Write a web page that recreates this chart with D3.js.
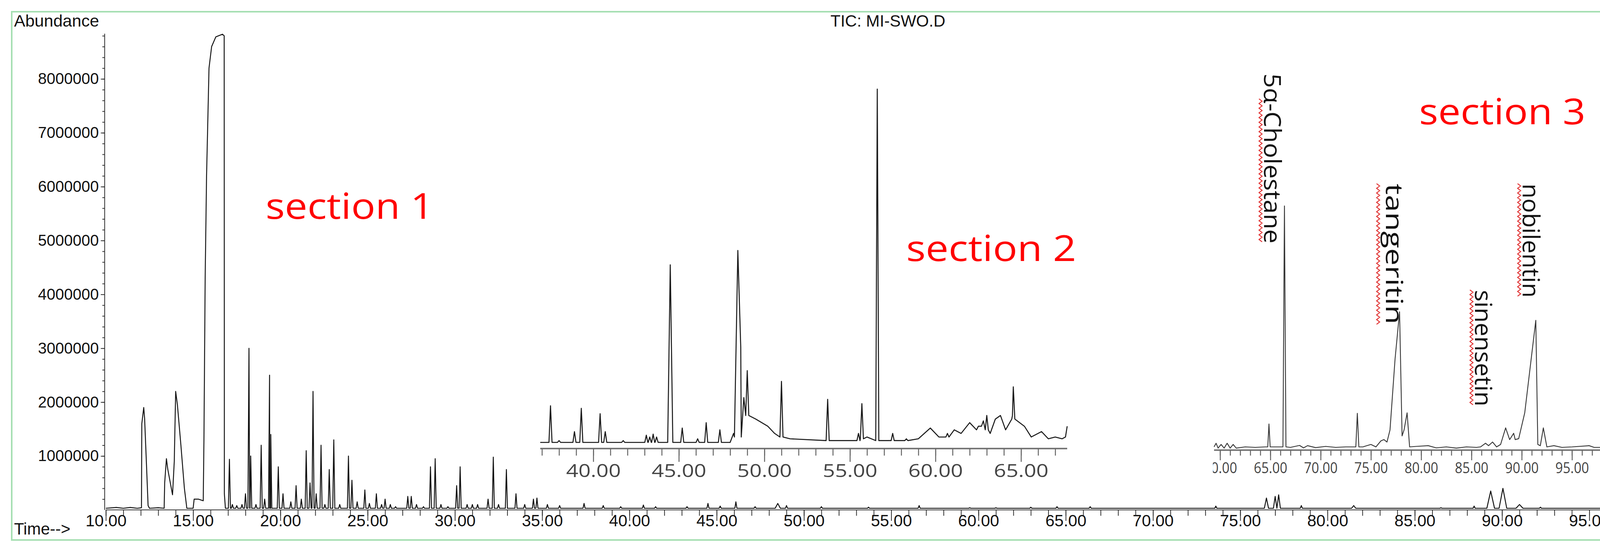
<!DOCTYPE html>
<html><head><meta charset="utf-8">
<script src="https://cdn.jsdelivr.net/npm/d3@7"></script>
<style>body{margin:0;background:#fff}svg{display:block}</style>
</head><body>
<script>
// ---------- DATA ----------
const title = "TIC: MI-SWO.D";
const yLabel = "Abundance";
const xLabel = "Time-->";
const yTicks = [1000000,2000000,3000000,4000000,5000000,6000000,7000000,8000000];
const xTicks = [10,15,20,25,30,35,40,45,50,55,60,65,70,75,80,85,90,95];
const sectionLabels = ["section 1","section 2","section 3"];
const compoundLabels = ["5α-Cholestane","tangeritin","sinensetin","nobilentin"];
// main trace, broad early region [time, abundance (millions)]
const mainProfile = [[10,0.03],[10.6,0.045],[11,0.03],[11.4,0.045],[11.8,0.03],[12.04,0.04],[12.06,1.6],[12.17,1.9],[12.22,1.7],[12.32,0.9],[12.42,0.08],[12.5,0.03],[13.0,0.04],[13.34,0.03],[13.37,0.5],[13.47,0.95],[13.55,0.75],[13.82,0.28],[13.92,0.9],[14.0,2.2],[14.1,1.95],[14.3,1.2],[14.5,0.4],[14.64,0.03],[15.0,0.03],[15.06,0.2],[15.3,0.2],[15.58,0.17],[15.62,1.3],[15.69,4.3],[15.77,6.2],[15.84,7.2],[15.91,8.2],[16.06,8.6],[16.3,8.78],[16.68,8.83],[16.78,8.8],[16.79,0.3],[16.85,0.03]];
// main trace, sharp peaks [time, abundance (millions), half width]
const mainPeaks = [[17.08,0.94],[17.25,0.1],[17.5,0.08],[17.8,0.1],[18.0,0.3],[18.2,3.0],[18.3,1.0],[18.6,0.1],[18.9,1.2],[19.1,0.2],[19.38,2.5],[19.45,1.4],[19.88,0.8],[20.15,0.3],[20.6,0.15],[20.9,0.45],[21.2,0.2],[21.48,1.1],[21.7,0.5],[21.87,2.2],[22.05,0.3],[22.33,1.2],[22.55,0.1],[22.8,0.75],[23.06,1.3],[23.4,0.1],[23.9,1.0],[24.1,0.55],[24.4,0.15],[24.84,0.37],[25.1,0.12],[25.5,0.3],[25.8,0.1],[26.0,0.2],[26.3,0.1],[26.6,0.06],[27.3,0.25],[27.5,0.25],[27.8,0.1],[28.2,0.06],[28.6,0.8],[28.87,0.95],[29.2,0.1],[29.6,0.06],[30.1,0.45],[30.3,0.8],[30.7,0.1],[31.0,0.1],[31.3,0.1],[31.9,0.2],[32.2,0.98],[32.5,0.1],[32.95,0.75],[33.5,0.3],[34.0,0.1],[34.5,0.2],[34.7,0.22],[35.3,0.1],[36.0,0.08],[37.4,0.12],[38.5,0.08],[39.5,0.06],[40.8,0.09],[41.5,0.06],[43.3,0.06],[44.5,0.12],[45.2,0.07],[46.1,0.15],[47.2,0.06],[48.5,0.12,0.15],[49.0,0.08],[51.0,0.06],[53.7,0.05],[56.6,0.08],[59.5,0.04],[61,0.04],[63,0.05],[64.5,0.06],[66.4,0.06],[73.6,0.07],[76.5,0.22,0.12],[77.0,0.25,0.1],[77.2,0.28,0.1],[78.5,0.08],[81.5,0.08,0.12],[86.5,0.04],[88.4,0.07],[89.35,0.35,0.22],[90.05,0.4,0.22],[91.0,0.1,0.2],[92.2,0.05]];
const mainEnd = [[100,0.03]];
// section 2 inset [time, relative height]
const inset2Ticks = [40,45,50,55,60,65];
const inset2Base = [[36.9,1.5],[48.0,1.5],[48.2,4],[48.62,28],[48.8,14],[49.5,8],[50.2,6],[50.6,4],[51.5,2.5],[55.2,2],[56.0,3],[57.0,2],[59,2.5],[59.7,5.5],[60.2,3],[61.1,5],[61.5,4],[62,7],[62.4,5],[62.8,7.5],[63.2,4],[63.5,8],[63.8,9],[64.1,5],[64.5,9],[65.2,6],[65.6,3],[66.2,4.5],[66.6,2.5],[67,3],[67.4,2.5],[67.6,3],[67.7,6]];
const inset2Peaks = [[37.5,11.7,1.5],[38.0,2,1.5],[38.4,1.5,1.5],[38.9,4.5,1.5],[39.3,11,1.5],[40.4,9.5,1.5],[40.7,4.5,1.5],[41.3,1.5,1.5],[41.75,2,1.5],[43.1,3.5,1.5],[43.3,3,1.5],[43.5,3.8,1.5],[43.7,3,1.5],[44.5,51,1.5,0.15],[45.2,5.5,1.5],[46.1,2.5,1.5],[46.6,7,1.5],[47.4,5,1.5],[48.45,55,3,0.2],[49.0,21.5,9],[51.0,18.5,3],[53.7,13.5,2],[55.5,4,2],[55.7,12.3,2.5],[56.6,100,2],[57.5,4,2],[58.3,2.5,2],[60.7,4,3],[62.6,6,6],[63.0,9,5],[64.55,17,8]];
// section 3 inset [time, relative height]
const inset3Ticks = [60,65,70,75,80,85,90,95];
const inset3Base = [[59.4,1],[59.6,2.5],[59.8,0.5],[60.1,2],[60.4,0.5],[60.7,2.5],[61.0,0.5],[61.3,2],[61.6,0.5],[62.5,1],[63.5,0.8],[64.5,1],[65.5,1],[66.1,1],[67.0,0.8],[67.9,1.6],[68.3,0.6],[68.7,1.5],[69.5,0.7],[70.5,1.2],[71.5,0.8],[72.5,1],[73.3,1],[74.2,1],[75.0,2],[75.5,1],[76.0,3.5],[76.3,4],[76.6,3],[76.9,8],[77.4,37],[77.85,56.5],[78.1,5.5],[78.3,8],[78.6,15],[78.85,1],[79.5,1.2],[80.7,1.5],[81.5,0.6],[82.5,1],[83.5,0.5],[84.5,1],[85.5,0.8],[85.9,1],[86.4,2.5],[86.7,1.5],[87.1,3],[87.5,1],[87.9,2],[88.4,8.8],[88.8,4],[89.2,6.6],[89.35,4],[89.7,4.4],[90.3,15],[91.4,53],[91.6,2],[91.85,1.5],[92.15,8.8],[92.5,1],[93.2,1.5],[94,0.8],[95,1],[96.7,1.5],[97.2,0.8],[98,0.8]];
const inset3Peaks = [[64.86,10.4,1,0.12],[66.4,100,1,0.15],[73.65,14.8,1,0.15]];

// ---------- BUILD ----------
const W = 4347, H = 1423;
const svg = d3.select("body").append("svg").attr("width", W).attr("height", H);
svg.append("rect").attr("x",30).attr("y",30).attr("width",4282).attr("height",1352)
  .attr("fill","#fff").attr("stroke","#a6dfb2").attr("stroke-width",4);

const FONT = "'Liberation Sans', Arial, sans-serif";
const x = d3.scaleLinear().domain([10,100]).range([271,4292]);
const y = d3.scaleLinear().domain([0,8000000]).range([1305,202]);

function spikes(list, base, wDef){
  const pts=[];
  list.forEach(p=>{const w=p[3]!==undefined?p[3]:wDef; const b=p[2]!==undefined?p[2]:base;
    pts.push([p[0]-w,b],[p[0],p[1]],[p[0]+w,b]);});
  return pts;
}
const mainPts = mainProfile.concat(
  mainPeaks.flatMap(p=>{const w=p[2]||0.06; return [[p[0]-w,0.03],[p[0],p[1]],[p[0]+w,0.03]];}),
  mainEnd).sort((a,b)=>a[0]-b[0]);

svg.append("path").datum(mainPts)
  .attr("d", d3.line().x(d=>x(d[0])).y(d=>y(d[1]*1e6)))
  .attr("fill","none").attr("stroke","#111").attr("stroke-width",2.4).attr("stroke-linejoin","round");

// y axis
const gy = svg.append("g").attr("transform","translate(268,0)");
gy.append("line").attr("y1",y(8840000)).attr("y2",y(0)).attr("stroke","#222").attr("stroke-width",2.5);
gy.append("g").call(d3.axisLeft(y).tickValues(d3.range(200000,8800001,200000)).tickSize(6).tickFormat(""));
gy.append("g").call(d3.axisLeft(y).tickValues(yTicks).tickSize(10).tickFormat(d3.format("d")));
gy.selectAll(".domain").remove();
gy.selectAll("line").attr("stroke","#333").attr("stroke-width",2);
gy.selectAll("text").attr("font-family",FONT).attr("font-size",40).attr("fill","#111").attr("dx",-2);

// x axis
const gx = svg.append("g").attr("transform","translate(0,1305)");
gx.append("line").attr("x1",x(10)).attr("x2",x(100)).attr("stroke","#222").attr("stroke-width",2.5);
gx.append("g").call(d3.axisBottom(x).tickValues(d3.range(10,101,1)).tickSize(15).tickFormat(""));
gx.append("g").call(d3.axisBottom(x).tickValues(xTicks).tickSize(28).tickFormat(d=>d.toFixed(2)).tickPadding(6));
gx.selectAll(".domain").remove();
gx.selectAll("line").attr("stroke","#333").attr("stroke-width",2);
gx.selectAll("text").attr("font-family",FONT).attr("font-size",42).attr("fill","#111").attr("dy","0.2em");

svg.append("text").attr("x",36).attr("y",1368).text(xLabel).attr("font-family",FONT).attr("font-size",42).attr("fill","#111");
svg.append("text").attr("x",36).attr("y",68).text(yLabel).attr("font-family",FONT).attr("font-size",43).attr("fill","#111");
svg.append("text").attr("x",2273).attr("y",68).attr("text-anchor","middle").text(title).attr("font-family",FONT).attr("font-size",42).attr("fill","#111");

// ---------- insets ----------
function inset(opts){
  const g = svg.append("g");
  const xs = d3.scaleLinear().domain(opts.xd).range(opts.xr);
  const ys = d3.scaleLinear().domain([0,100]).range([opts.axisY-2, opts.top]);
  const pts = opts.base.concat(spikes(opts.peaks,1.5,opts.w)).sort((a,b)=>a[0]-b[0]);
  g.append("line").attr("x1",opts.xr[0]).attr("x2",opts.xr[1]).attr("y1",opts.axisY).attr("y2",opts.axisY)
    .attr("stroke","#777").attr("stroke-width",4);
  const minor = d3.range(Math.ceil(opts.xd[0]), Math.floor(opts.xd[1])+1, 1);
  const ga = g.append("g").attr("transform",`translate(0,${opts.axisY})`);
  ga.append("g").call(d3.axisBottom(xs).tickValues(minor).tickSize(opts.minorLen).tickFormat(""));
  ga.append("g").attr("clip-path", opts.clip ? "url(#"+opts.clip+")" : null)
    .call(d3.axisBottom(xs).tickValues(opts.ticks).tickSize(opts.majorLen).tickFormat(d=>d.toFixed(2)).tickPadding(6));
  ga.selectAll(".domain").remove();
  ga.selectAll("line").attr("stroke","#666").attr("stroke-width",2.5);
  ga.selectAll("text").attr("font-family","'Open Sans', sans-serif").attr("font-size",opts.fs)
    .attr("fill","#444").attr("textLength",opts.tl).attr("lengthAdjust","spacingAndGlyphs");
  g.append("path").datum(pts).attr("d", d3.line().x(d=>xs(d[0])).y(d=>ys(d[1])))
    .attr("fill","none").attr("stroke",opts.color).attr("stroke-width",opts.sw).attr("stroke-linejoin","round");
  return xs;
}
svg.append("defs").append("clipPath").attr("id","c3").append("rect")
  .attr("x",3105).attr("y",-50).attr("width",1200).attr("height",200);
inset({xd:[36.9,67.7], xr:[1383,2732], axisY:1148, top:228, base:inset2Base, peaks:inset2Peaks, w:0.09,
  ticks:inset2Ticks, minorLen:18, majorLen:34, fs:46, tl:140, color:"#1a1a1a", sw:2.6});
inset({xd:[59.4,100], xr:[3108,4153], axisY:1152, top:527, base:inset3Base, peaks:inset3Peaks, w:0.12,
  ticks:inset3Ticks, minorLen:14, majorLen:26, fs:38, tl:86, color:"#333", sw:2.2, clip:"c3"});

// section labels
const secPos = [[680,560,430],[2320,668,435],[3633,318,426]];
sectionLabels.forEach((s,i)=>{
  svg.append("text").attr("x",secPos[i][0]).attr("y",secPos[i][1]).text(s)
    .attr("font-family","'Open Sans', sans-serif").attr("font-size",92).attr("fill","#ff0000")
    .attr("textLength",secPos[i][2]).attr("lengthAdjust","spacingAndGlyphs");
});
// compound labels (rotated) with spell-check squiggles
const cmpPos = [[3236,188,435],[3548,470,360],[3776,742,298],[3898,470,292]];
compoundLabels.forEach((s,i)=>{
  const [bx,ty,len]=cmpPos[i];
  svg.append("text").attr("transform",`translate(${bx},${ty}) rotate(90)`).text(s)
    .attr("font-family","'Open Sans', sans-serif").attr("font-size",60).attr("fill","#111")
    .attr("textLength",len).attr("lengthAdjust","spacingAndGlyphs");
  const sx = bx - (s==="tangeritin"?20:9), startY = ty + (i===0?65:0);
  const n = Math.floor((ty+len-startY)/6);
  const zig = d3.range(n+1).map(k=>[sx + (k%2?4:-4), startY + k*6]);
  svg.append("path").attr("d", d3.line()(zig)).attr("fill","none").attr("stroke","#e03030").attr("stroke-width",2.2);
});
</script>
</body></html>
